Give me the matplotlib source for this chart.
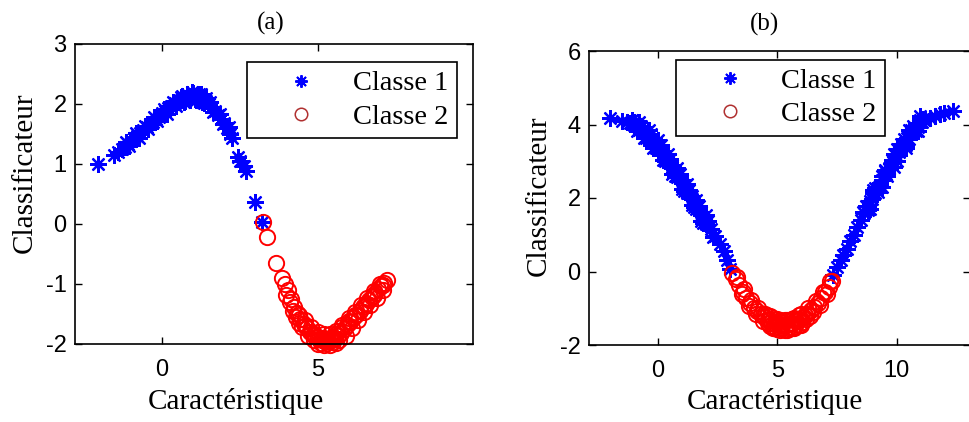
import matplotlib
matplotlib.use("Agg")
import matplotlib.pyplot as plt
from matplotlib.lines import Line2D

plt.rcParams['axes.unicode_minus'] = False

# ---- panel (a) ----
xa_c1 = [-2.05, -1.55, -1.42, -1.3, -1.2, -1.1, -1.0, -0.9, -0.8, -0.7, -0.6, -0.5, -0.4, -0.3,
         -0.2, -0.1, 0.0, 0.1, 0.2, 0.3, 0.4, 0.5, 0.6, 0.7, 0.8, 0.9, 1.0, 1.1, 1.2, 1.3, 1.4,
         1.5, 1.6, 1.7, 1.8, 1.9, 2.0, 2.1, 2.2, 2.25,
         -1.15, -0.85, -0.55, -0.25, 0.05, 0.35, 0.65, 0.95, 1.25, 1.55, 1.85, 2.15,
         -1.05, -0.75, -0.45, -0.15, 0.15, 0.45, 0.75, 1.05, 1.35, 1.65, 1.95,
         0.6, 0.8, 1.0, 1.2, 1.4, 0.7, 0.9, 1.1, 1.3,
         2.45, 2.52, 2.62, 2.7, 2.98, 3.22]
ya_c1 = [1.0, 1.15, 1.2, 1.25, 1.29, 1.34, 1.38, 1.43, 1.47, 1.52, 1.56, 1.61, 1.66, 1.70,
         1.75, 1.79, 1.85, 1.89, 1.93, 1.97, 2.01, 2.04, 2.07, 2.10, 2.12, 2.14, 2.15, 2.14, 2.12, 2.09, 2.05,
         2.00, 1.95, 1.89, 1.82, 1.75, 1.68, 1.60, 1.50, 1.44,
         1.37, 1.51, 1.64, 1.78, 1.92, 2.04, 2.14, 2.20, 2.16, 2.03, 1.84, 1.61,
         1.30, 1.44, 1.58, 1.71, 1.84, 1.96, 2.05, 2.09, 2.01, 1.86, 1.66,
         2.12, 2.17, 2.19, 2.17, 2.10, 2.03, 2.06, 2.07, 2.03,
         1.12, 1.05, 0.97, 0.88, 0.37, 0.03]

xa_c2 = [3.25, 3.38, 3.65, 3.85, 3.95, 4.05, 4.15, 4.25, 4.35, 4.45, 4.55, 4.65, 4.75, 4.85, 4.95,
         5.05, 5.15, 5.25, 5.35, 5.45, 5.55, 5.65, 5.75, 5.85, 5.95, 6.05, 6.15, 6.25, 6.35, 6.45,
         6.55, 6.65, 6.75, 6.85, 6.95, 7.05, 7.15, 7.22,
         4.6, 4.8, 5.0, 5.2, 5.4, 5.6, 5.8, 6.0, 6.2, 6.4, 6.6, 6.8, 7.0,
         4.0, 4.1, 4.2, 4.3, 4.4, 4.5, 4.7, 4.9, 5.1, 5.3, 5.5, 5.7, 5.9, 6.1, 6.3, 6.5, 6.7, 6.9, 7.1,
         4.4, 4.6, 4.8, 4.9, 5.0, 5.1, 5.2, 5.3, 5.4, 5.5, 5.6, 5.7, 5.8, 6.0, 6.2, 6.5, 6.8, 7.1,
         5.0, 5.2, 5.4, 5.6]
ya_c2 = [0.03, -0.22, -0.65, -0.90, -1.00, -1.10, -1.25, -1.38, -1.48, -1.58, -1.66, -1.74, -1.80, -1.85, -1.89,
         -1.92, -1.94, -1.95, -1.95, -1.93, -1.90, -1.86, -1.81, -1.75, -1.69, -1.63, -1.57, -1.51, -1.45, -1.39,
         -1.33, -1.27, -1.21, -1.15, -1.09, -1.03, -0.98, -0.93,
         -1.60, -1.72, -1.80, -1.84, -1.83, -1.78, -1.68, -1.57, -1.46, -1.35, -1.24, -1.12, -1.00,
         -1.18, -1.30, -1.45, -1.55, -1.65, -1.72, -1.86, -1.94, -1.98, -1.99, -1.97, -1.93, -1.86, -1.73,
         -1.60, -1.47, -1.35, -1.23, -1.10,
         -1.52, -1.70, -1.80, -1.84, -1.88, -1.90, -1.91, -1.92, -1.90, -1.88, -1.84, -1.79, -1.72, -1.62,
         -1.52, -1.36, -1.19, -1.02,
         -2.00, -2.02, -2.01, -1.98]

# ---- panel (b) ----
xb_c1 = [-2.0, -1.5, -1.3, -1.2, -1.0, -0.8, -0.6, -0.4, -0.2, 0.0, 0.2, 0.4, 0.6, 0.8, 1.0, 1.2, 1.4,
         1.6, 1.8, 2.0, 2.2, 2.4, 2.6, 2.75, 2.9, 3.0,
         -1.1, -0.7, -0.3, 0.1, 0.5, 0.9, 1.3, 1.7, 2.1,
         -0.9, -0.5, -0.1, 0.3, 0.7, 1.1, 1.5, 1.9, 2.3,
         -1.0, -0.6, -0.2, 0.2, 0.6, 1.0, 1.4, 1.8,
         -0.8, -0.4, 0.0, 0.4, 0.8, 1.2, 1.6, 2.0,
         -0.8, -0.4, 0.0, 0.4, 0.8, 1.2, 1.6, 2.0,
         -0.6, -0.2, 0.2, 0.6, 1.0, 1.4, 1.8,
         7.35, 7.5, 7.65, 7.75, 7.9, 8.05, 8.2, 8.35, 8.5, 8.65, 8.8, 8.95, 9.1, 9.25, 9.4, 9.55,
         9.7, 9.85, 10.0, 10.15, 10.3, 10.45, 10.6, 10.75, 10.9, 11.05, 11.2, 11.4, 11.6, 11.8, 12.0, 12.35,
         8.6, 9.0, 9.4, 9.8, 10.2, 10.6, 11.0,
         8.8, 9.2, 9.6, 10.0, 10.4, 10.8,
         8.7, 9.1, 9.5, 9.9, 10.3, 10.7, 11.1,
         8.9, 9.3, 9.7, 10.1, 10.5, 10.9,
         9.0, 9.5, 10.0, 10.5, 11.0,
         8.9, 9.4, 9.9, 10.4, 10.9]
yb_c1 = [4.18, 4.10, 4.06, 4.04, 3.98, 3.90, 3.80, 3.68, 3.55, 3.40, 3.22, 3.03, 2.84, 2.63, 2.42, 2.20, 1.98,
         1.77, 1.55, 1.36, 1.16, 0.96, 0.75, 0.55, 0.30, 0.08,
         4.12, 3.97, 3.74, 3.43, 3.05, 2.65, 2.21, 1.78, 1.38,
         3.82, 3.62, 3.35, 3.00, 2.61, 2.19, 1.75, 1.33, 0.94,
         4.06, 3.90, 3.63, 3.29, 2.90, 2.48, 2.05, 1.62,
         3.84, 3.60, 3.34, 2.97, 2.57, 2.14, 1.71, 1.30,
         4.08, 3.86, 3.58, 3.21, 2.81, 2.38, 1.95, 1.54,
         3.62, 3.37, 3.04, 2.66, 2.24, 1.80, 1.37,
         -0.10, 0.12, 0.30, 0.44, 0.62, 0.82, 1.00, 1.20, 1.40, 1.60, 1.78, 1.96, 2.14, 2.31, 2.48, 2.65,
         2.81, 2.98, 3.15, 3.32, 3.48, 3.62, 3.76, 3.89, 3.99, 4.07, 4.13, 4.19, 4.24, 4.28, 4.30, 4.36,
         1.63, 2.13, 2.60, 3.03, 3.47, 3.86, 4.13,
         1.66, 2.15, 2.60, 3.02, 3.45, 3.82,
         1.77, 2.27, 2.74, 3.19, 3.60, 3.95, 4.15,
         1.91, 2.36, 2.80, 3.24, 3.61, 3.92,
         2.23, 2.77, 3.33, 3.84, 4.22,
         1.69, 2.30, 2.85, 3.36, 3.81]

xb_c2 = [3.1, 3.25, 3.4, 3.55, 3.7, 3.85, 4.0, 4.15, 4.3, 4.45, 4.6, 4.75, 4.9, 5.05, 5.2, 5.35, 5.5,
         5.65, 5.8, 5.95, 6.1, 6.25, 6.4, 6.55, 6.7, 6.85, 7.0, 7.15, 7.3,
         3.3, 3.6, 3.9, 4.2, 4.5, 4.8, 5.1, 5.4, 5.7, 6.0, 6.3, 6.6, 6.9, 7.2,
         3.5, 3.8, 4.1, 4.4, 4.7, 5.0, 5.3, 5.6, 5.9, 6.2, 6.5, 6.8, 7.1,
         4.6, 4.85, 5.15, 5.45, 5.75, 6.05, 6.35,
         4.4, 4.65, 4.95, 5.25, 5.55, 5.85, 6.15,
         4.7, 5.0, 5.3, 5.6, 5.9,
         4.8, 5.1, 5.4, 5.7, 6.0]
yb_c2 = [-0.05, -0.20, -0.38, -0.55, -0.72, -0.86, -0.98, -1.08, -1.17, -1.25, -1.32, -1.38, -1.42, -1.45, -1.46, -1.46, -1.44,
         -1.41, -1.36, -1.30, -1.23, -1.15, -1.06, -0.96, -0.85, -0.72, -0.57, -0.42, -0.25,
         -0.14, -0.48, -0.78, -0.99, -1.15, -1.27, -1.33, -1.33, -1.27, -1.15, -0.99, -0.80, -0.56, -0.25,
         -0.62, -0.93, -1.17, -1.35, -1.48, -1.56, -1.58, -1.55, -1.46, -1.30, -1.11, -0.90, -0.62,
         -1.40, -1.50, -1.54, -1.53, -1.47, -1.37, -1.21,
         -1.18, -1.30, -1.37, -1.40, -1.39, -1.31, -1.19,
         -1.22, -1.29, -1.31, -1.28, -1.19,
         -1.55, -1.60, -1.60, -1.55, -1.45]

labels = ['Classe 1', 'Classe 2']
serif = 'Liberation Serif'
sans = 'Liberation Sans'
blue = '#0000ff'
red = '#ff0000'
star = (8, 2, 0)

fig = plt.figure(figsize=(9.7, 4.22), dpi=100)
ax_a = fig.add_axes([75 / 970, 1 - 344 / 422, 398 / 970, 300 / 422])
ax_b = fig.add_axes([589 / 970, 1 - 345 / 422, 381.5 / 970, 294 / 422])


def style_axes(ax, xticks, yticks, xlim, ylim):
    ax.set_xlim(*xlim)
    ax.set_ylim(*ylim)
    ax.set_xticks(xticks)
    ax.set_yticks(yticks)
    ax.tick_params(direction='in', length=5, width=1, top=True, right=True,
                   labelsize=17, pad=6)
    ax.tick_params(axis='x', pad=11)
    for lab in ax.get_xticklabels() + ax.get_yticklabels():
        lab.set_fontfamily(sans)
    for s in ax.spines.values():
        s.set_linewidth(1.2)


def draw(ax, x1, y1, x2, y2):
    ax.plot(x1, y1, linestyle='none', marker=star, ms=12, mec=blue, mew=1.6)
    ax.plot(x2, y2, linestyle='none', marker='o', ms=11, mfc='none', mec=red, mew=1.4,
            clip_on=False)


draw(ax_a, xa_c1, ya_c1, xa_c2, ya_c2)
draw(ax_b, xb_c1, yb_c1, xb_c2, yb_c2)

style_axes(ax_a, [0, 5], [-2, -1, 0, 1, 2, 3], (-2.8, 10), (-2, 3))
style_axes(ax_b, [0, 5, 10], [-2, 0, 2, 4, 6], (-2.9, 13.1), (-2, 6))

handles = [Line2D([], [], linestyle='none', marker=star, ms=9, mec=blue, mew=1.4),
           Line2D([], [], linestyle='none', marker='o', ms=9, mfc='none', mec='#b03030', mew=1.1)]

for ax, anchor in ((ax_a, (0.433, 0.94)), (ax_b, (0.228, 0.97))):
    leg = ax.legend(handles, labels, loc='upper left', bbox_to_anchor=anchor,
                    borderaxespad=0, prop={'family': serif, 'size': 20.5},
                    handlelength=3.2, handletextpad=0.2, labelspacing=0.25,
                    borderpad=0.3, fancybox=False, framealpha=1)
    leg.get_frame().set_edgecolor('black')
    leg.get_frame().set_linewidth(1.2)

# axis labels and panel titles
ax_a.set_xlabel('Caractéristique', family=serif, fontsize=21, va='center')
ax_a.xaxis.set_label_coords(0.405, -0.193)
ax_a.set_ylabel('Classificateur', family=serif, fontsize=21, va='center')
ax_a.yaxis.set_label_coords(-0.126, 0.57)
ax_b.set_xlabel('Caractéristique', family=serif, fontsize=21, va='center')
ax_b.xaxis.set_label_coords(0.486, -0.193)
ax_b.set_ylabel('Classificateur', family=serif, fontsize=21, va='center')
ax_b.yaxis.set_label_coords(-0.131, 0.507)

ax_a.text(0.491, 1.067, '(a)', transform=ax_a.transAxes, ha='center', va='center',
          family=serif, fontsize=18)
ax_b.text(0.459, 1.091, '(b)', transform=ax_b.transAxes, ha='center', va='center',
          family=serif, fontsize=18)

fig.savefig('out.png', dpi=100)
